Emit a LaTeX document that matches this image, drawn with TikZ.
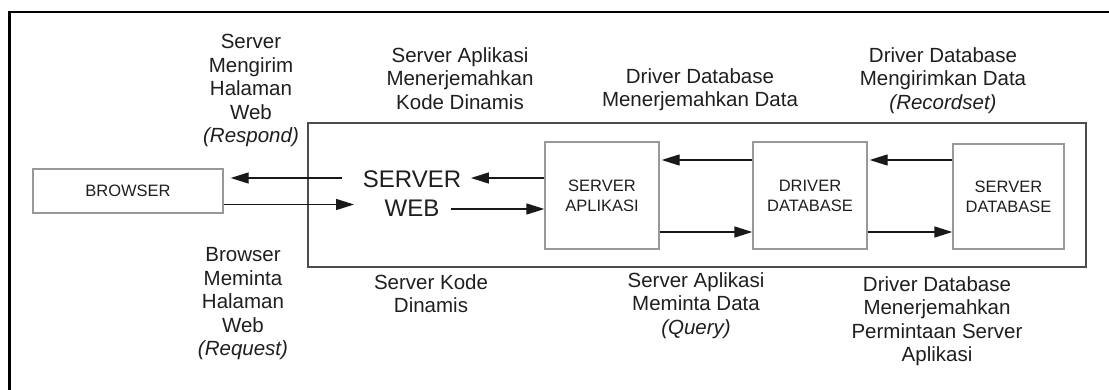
\documentclass[tikz,border=0pt]{standalone}
\usepackage{fontspec}
\setmainfont{Liberation Sans}
\usetikzlibrary{arrows.meta}
\begin{document}
\begin{tikzpicture}[x=1pt,y=-1pt,
  lbl/.style={align=center, anchor=north, inner sep=0pt, text=black!88,
    font=\fontsize{20.5}{23.5}\selectfont},
  unit/.style={draw=black!40, line width=1.3pt, inner sep=0pt, align=center,
    text=black!88, font=\fontsize{16.5}{20}\selectfont},
  arr/.style={draw=black!90, line width=1.3pt,
    -{Triangle[length=18pt,width=11pt]}},
]
\useasboundingbox (0,0) rectangle (1109,390);
\fill[white] (0,0) rectangle (1109,390);

% outer frame (continues past the right and bottom edges)
\draw[line width=2.4pt] (1112,12) -- (9.5,12) -- (9.5,393);

% server side enclosure
\node[draw=black!70, line width=2pt, minimum width=778pt, minimum height=144pt,
  inner sep=0pt] (frame) at (697,195) {};

% components
\node[unit, minimum width=190pt, minimum height=44pt] (browser) at (128,191) {BROWSER};
\node[unit, minimum width=114pt, minimum height=107pt] (app) at (602,195.5) {SERVER\\APLIKASI};
\node[unit, minimum width=114pt, minimum height=107pt] (drv) at (810,195.5) {DRIVER\\DATABASE};
\node[unit, minimum width=111pt, minimum height=105pt] (sdb) at (1008.5,196.5) {SERVER\\DATABASE};
\node[inner sep=0pt, align=center, text=black!88,
  font=\fontsize{24}{29}\selectfont] (sw) at (412,194) {SERVER\\WEB};

% data flow
\draw[arr] ([xshift=-20.6pt,yshift=16pt]sw.west) coordinate (respond)
  -- ([xshift=7pt]browser.east |- respond);
\draw[arr] ([yshift=-13.5pt]browser.east) coordinate (request)
  -- ([xshift=-8.6pt]sw.west |- request);
\draw[arr] (app.west |- respond) -- ([xshift=9.6pt]sw.east |- respond);
\draw[arr] ([xshift=-10.4pt,yshift=-15pt]sw.east) coordinate (fwd) -- (app.west |- fwd);
\draw[arr] ([yshift=35.5pt]drv.west) coordinate (back) -- ([xshift=2pt]app.east |- back);
\draw[arr] ([yshift=-36.5pt]app.east) coordinate (query) -- (drv.west |- query);
\draw[arr] (sdb.west |- back) -- ([xshift=2pt]drv.east |- back);
\draw[arr] (drv.east |- query) -- (sdb.west |- query);

% step descriptions
\node[lbl] (respondlbl) at (251,34.2) {Server\\Mengirim\\Halaman\\Web\\\textit{(Respond)}};
\node[lbl] (kodelbl) at (460,47.2) {Server Aplikasi\\Menerjemahkan\\Kode Dinamis};
\node[lbl] (translbl) at (700,68.2) {Driver Database\\Menerjemahkan Data};
\node[lbl] (recordlbl) at (943,47.2) {Driver Database\\Mengirimkan Data\\\textit{(Recordset)}};
\node[lbl] (requestlbl) at (243,247.2) {Browser\\Meminta\\Halaman\\Web\\\textit{(Request)}};
\node[lbl] (dynlbl) at (431,274.2) {Server Kode\\Dinamis};
\node[lbl] (querylbl) at (696,272.2) {Server Aplikasi\\Meminta Data\\\textit{(Query)}};
\node[lbl] (permlbl) at (937,276.2) {Driver Database\\Menerjemahkan\\Permintaan Server\\Aplikasi};
\end{tikzpicture}
\end{document}
